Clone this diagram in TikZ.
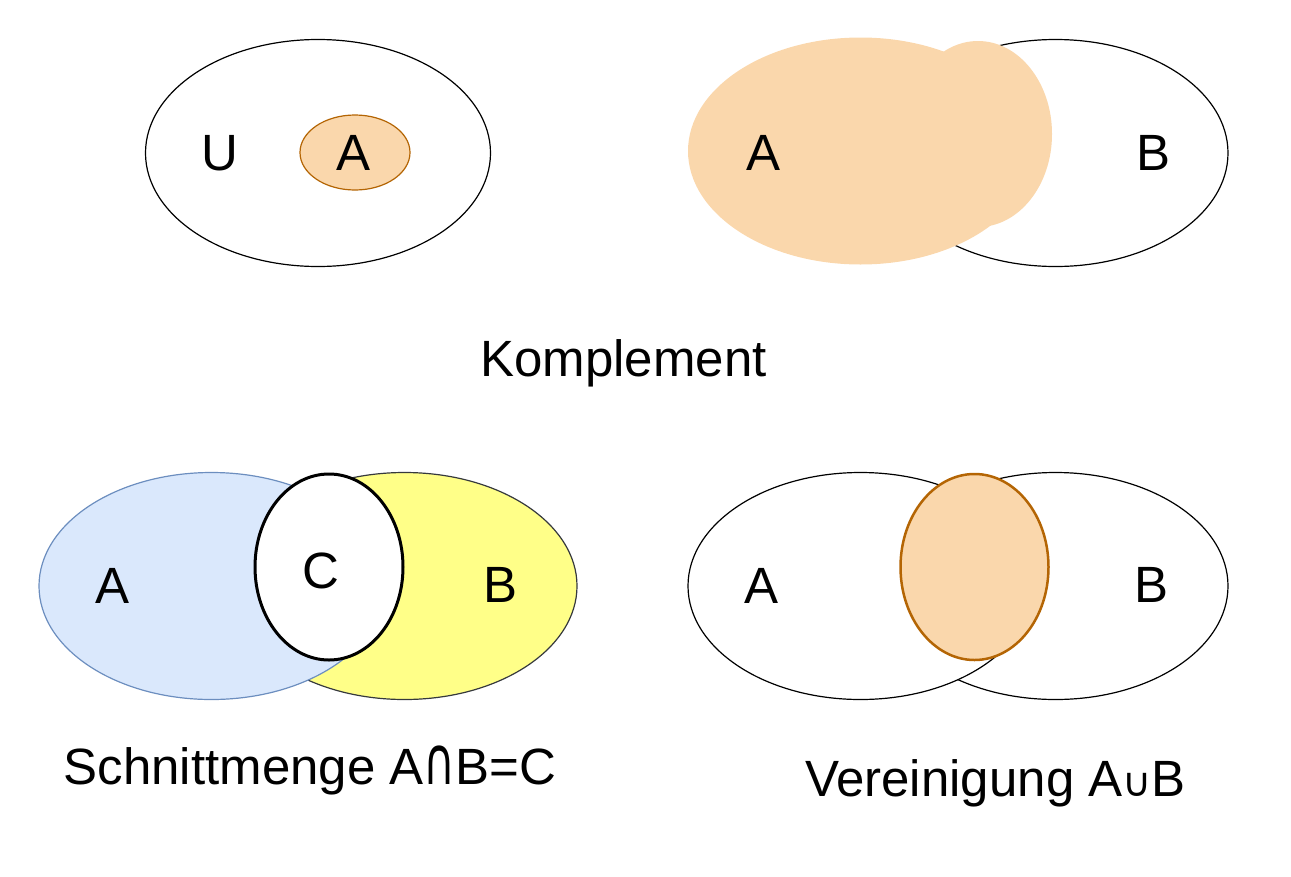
\documentclass[tikz,border=0pt]{standalone}
\usepackage{fontspec}
\usepackage{graphicx}
\setmainfont{Liberation Sans}
\newfontfamily\dvfont{DejaVu Sans}
\usetikzlibrary{shapes.geometric}
\definecolor{orfill}{HTML}{FAD7AC}
\definecolor{orline}{HTML}{B46504}
\definecolor{blfill}{HTML}{DAE8FC}
\definecolor{blline}{HTML}{6C8EBF}
\definecolor{yefill}{HTML}{FFFF88}
\definecolor{yeline}{HTML}{36393D}
\tikzset{
  bigell/.style={ellipse, inner sep=0pt, minimum width=345pt, minimum height=227pt, line width=1.2pt},
  midell/.style={ellipse, inner sep=0pt, minimum width=148pt, minimum height=186pt},
  lbl/.style={anchor=base, inner sep=0pt, font=\fontsize{51}{61}\selectfont},
}
\begin{document}
\begin{tikzpicture}[x=1pt,y=-1pt]
\useasboundingbox (0,0) rectangle (1291,876);
% top-left: complement
\node[bigell, draw=black, fill=white] (U) at (318,153) {};
\node[ellipse, inner sep=0pt, minimum width=110pt, minimum height=75pt, draw=orline, fill=orfill, line width=1.2pt] (Asmall) at (355,152.5) {};
\node[lbl] (lU) at (220,170) {U};
\node[lbl] (lA1) at (354,170) {A};
% top-right
\node[bigell, draw=black, fill=white] (B1) at (1055.5,153) {};
\node[bigell, fill=orfill] (A1) at (860.5,151) {};
\node[midell, fill=orfill] (blob) at (978,134) {};
\node[lbl] (lA2) at (763.5,170) {A};
\node[lbl] (lB2) at (1153,170) {B};
% Komplement
\node[lbl] (komp) at (623.5,376) {Komplement};
% bottom-left: intersection
\node[bigell, draw=yeline, fill=yefill] (B2) at (404.5,586) {};
\node[bigell, draw=blline, fill=blfill] (A2) at (211.5,586) {};
\node[midell, draw=black, fill=white, line width=3pt] (C) at (329,567) {};
\node[lbl] (lA3) at (113,603) {A};
\node[lbl] (lC) at (321,588) {C};
\node[lbl] (lB3) at (501,602) {B};
\node[lbl] (schnitt) at (310,784) {Schnittmenge A\scalebox{0.95}[1.45]{\dvfont\fontsize{46}{55}\selectfont ∩}B=C};
% bottom-right: union
\node[bigell, draw=black, fill=white] (B3) at (1055.5,586) {};
\node[bigell, draw=black, fill=white] (A3) at (860.5,586) {};
\node[midell, draw=orline, fill=orfill, line width=2.5pt] (U2) at (974.5,567) {};
\node[lbl] (lA4) at (762,603) {A};
\node[lbl] (lB4) at (1151,602) {B};
\node[lbl] (verein) at (995.5,796) {Vereinigung A{\dvfont\fontsize{40}{48}\selectfont ∪}B};
\end{tikzpicture}
\end{document}
